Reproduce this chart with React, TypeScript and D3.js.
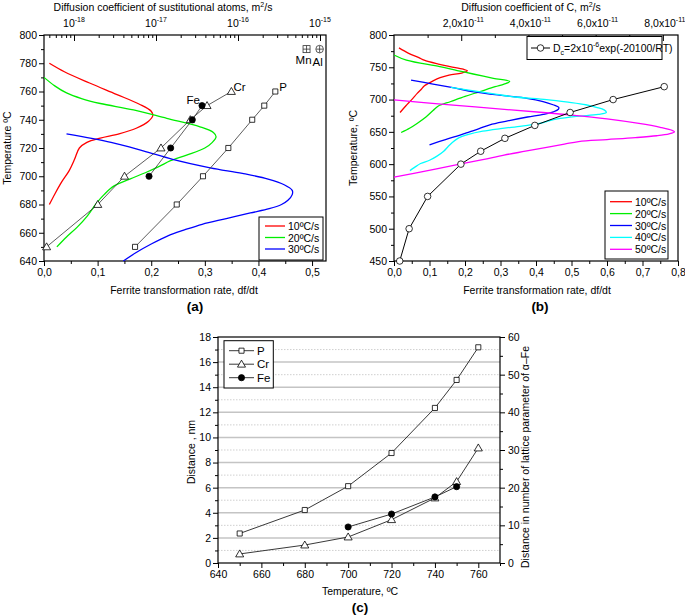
import { useEffect, useRef } from "react";
import * as d3 from "d3";

// [temperature ºC, ferrite transformation rate df/dt]
type TR = [number, number];

/* ── panel (a) ── */
const rateA10: TR[] = [
  [780, 0.010], [774, 0.038], [766, 0.085], [758, 0.135], [751, 0.178], [746, 0.200], [743, 0.203],
  [739, 0.195], [734, 0.172], [730, 0.140], [727, 0.105], [724, 0.080], [720, 0.066], [712, 0.057],
  [704, 0.047], [696, 0.033], [688, 0.021], [680, 0.010],
];
const rateA20: TR[] = [
  [770, 0.000], [764, 0.020], [759, 0.042], [755, 0.070], [751.5, 0.105], [747, 0.167], [741, 0.229],
  [735, 0.291], [731, 0.316], [728, 0.321], [724, 0.314], [720, 0.300], [715, 0.266], [711, 0.236],
  [707, 0.215], [703, 0.192], [698, 0.160], [693, 0.130], [687, 0.112], [681, 0.098], [672, 0.081],
  [664, 0.062], [657, 0.042], [650, 0.024],
];
const rateA30: TR[] = [
  [730, 0.042], [724, 0.125], [718, 0.185], [712, 0.240], [706, 0.310], [702, 0.370], [698, 0.418],
  [694, 0.448], [690, 0.463], [687, 0.463], [683, 0.455], [680, 0.443], [677, 0.420], [674, 0.385],
  [670, 0.340], [666, 0.295], [662, 0.262], [658, 0.232], [652, 0.200], [646, 0.172], [640, 0.148],
];
// [temperature ºC, diffusion coefficient m²/s]
const diffP: TR[] = [[650, 5.55e-18], [680, 1.79e-17], [700, 3.74e-17], [720, 7.62e-17], [740, 1.49e-16], [750, 2.09e-16], [760, 2.85e-16]];
const diffCr: TR[] = [[650, 4.63e-19], [680, 1.95e-18], [700, 4.13e-18], [720, 1.15e-17], [740, 2.62e-17], [750, 4.19e-17], [760, 8.30e-17]];
const diffFe: TR[] = [[700, 8.22e-18], [720, 1.51e-17], [740, 2.77e-17], [750, 3.64e-17]];
const diffMnAl = [{ name: "Mn", t: 790, d: 6.85e-16, sym: "sq" }, { name: "Al", t: 790, d: 9.89e-16, sym: "ci" }];
const legendA = ["10ºC/s", "20ºC/s", "30ºC/s"];
const topTicksA = [1e-18, 1e-17, 1e-16, 1e-15];

/* ── panel (b) ── */
const rateB10: TR[] = [
  [780, 0.014], [772, 0.040], [765, 0.070], [761, 0.085], [755, 0.125], [751, 0.158], [747, 0.195],
  [744.5, 0.207], [741, 0.190], [738, 0.155], [734, 0.130], [729, 0.110], [725, 0.097], [721, 0.085],
  [716, 0.077], [710, 0.066], [700, 0.050], [690, 0.033], [680, 0.017],
];
const rateB20: TR[] = [
  [769, 0.000], [761, 0.035], [751, 0.129], [745, 0.178], [739.6, 0.223], [733, 0.280], [728, 0.326],
  [724, 0.310], [720, 0.285], [712, 0.240], [705, 0.200], [697, 0.160], [690, 0.125], [683, 0.110],
  [673, 0.090], [663, 0.065], [656, 0.045], [649, 0.020],
];
const rateB30: TR[] = [
  [730, 0.048], [724, 0.110], [718, 0.170], [712, 0.225], [706, 0.310], [702, 0.374], [697, 0.420],
  [692, 0.448], [688, 0.464], [685, 0.463], [681, 0.449], [677, 0.420], [673, 0.376], [667, 0.320],
  [661, 0.270], [655, 0.240], [650, 0.213], [645, 0.186], [638, 0.145], [630, 0.100],
];
const rateB40: TR[] = [
  [719, 0.160], [713, 0.230], [708, 0.290], [704, 0.340], [700, 0.430], [696, 0.490], [692, 0.540],
  [688, 0.570], [684, 0.592], [680, 0.598], [677, 0.575], [674, 0.515], [670, 0.460], [666, 0.430],
  [663, 0.410], [659, 0.360], [655, 0.300], [651, 0.250], [646, 0.210], [640, 0.180], [634, 0.165],
  [627, 0.152], [620, 0.140], [612, 0.120], [606, 0.100], [601, 0.075], [595, 0.058], [590, 0.045],
];
const rateB50: TR[] = [
  [699.5, 0.000], [694.5, 0.100], [689, 0.220], [684, 0.330], [680, 0.420], [676, 0.500], [670, 0.600],
  [663, 0.690], [657, 0.750], [652, 0.785], [650, 0.790], [647, 0.775], [644, 0.740], [641, 0.680],
  [638, 0.600], [635, 0.520], [631, 0.480], [626, 0.430], [620, 0.370], [614, 0.310], [607, 0.250],
  [600, 0.185], [590, 0.095], [580, 0.000],
];
// [temperature ºC, D_C in 1e-11 m²/s]
const diffCarbon: TR[] = [[450, 0.17], [500, 0.45], [550, 1.0], [600, 1.99], [620, 2.58], [640, 3.30], [660, 4.19], [680, 5.24], [700, 6.52], [720, 8.04]];
const legendB = ["10ºC/s", "20ºC/s", "30ºC/s", "40ºC/s", "50ºC/s"];
const topTicksB = [2, 4, 6, 8];

/* ── panel (c) ── */
const tempC = [650, 680, 700, 720, 740, 750, 760];
const distP = [2.35, 4.22, 6.12, 8.76, 12.35, 14.58, 17.18];
const distCr = [0.72, 1.43, 2.07, 3.45, 5.18, 6.48, 9.16];
const tempFe = [700, 720, 740, 750];
const distFe = [2.87, 3.9, 5.26, 6.08];

const FONT = "'Liberation Sans', Arial, Helvetica, sans-serif";
const FS = 10.5;
const colorsB = ["#ff0000", "#00ee00", "#0000ff", "#00ffff", "#ff00ff"];
const comma = (v: any) => d3.format(".1f")(v).replace(".", ",");

export default function App() {
  const ref = useRef<SVGSVGElement>(null);

  useEffect(() => {
    if (!ref.current) return;
    const svg = d3.select(ref.current);
    svg.selectAll("*").remove();

    const styleAxis = (g: any, labels = true) => {
      g.attr("font-family", FONT).attr("font-size", FS);
      g.select(".domain").remove();
      g.selectAll(".tick line").attr("stroke", "#000").attr("stroke-width", 1);
      g.selectAll(".tick text").attr("fill", "#000");
      if (!labels) g.selectAll(".tick text").remove();
    };
    const txt = (g: any, x: number, y: number, s: string, opt: any = {}) =>
      g.append("text").attr("x", x).attr("y", y).attr("font-family", FONT)
        .attr("font-size", opt.size ?? FS).attr("font-weight", opt.bold ? "bold" : "normal")
        .attr("text-anchor", opt.anchor ?? "middle").attr("fill", "#000")
        .attr("transform", opt.rot ? `rotate(-90,${x},${y})` : null).text(s);
    const marker = (g: any, kind: string, x: number, y: number) => {
      const type = kind === "sq" ? d3.symbolSquare : kind === "tri" ? d3.symbolTriangle : d3.symbolCircle;
      const size = kind === "sq" ? 26 : kind === "tri" ? 28 : kind === "dot" ? 30 : 34;
      g.append("path").attr("d", d3.symbol(type, size)())
        .attr("transform", `translate(${x},${y + (kind === "tri" ? 0.6 : 0)})`)
        .attr("fill", kind === "dot" ? "#000" : "#fff").attr("stroke", "#000").attr("stroke-width", 0.8);
    };
    const frame = (g: any, P: any) =>
      g.append("rect").attr("x", P.l).attr("y", P.t).attr("width", P.r - P.l).attr("height", P.b - P.t)
        .attr("fill", "none").attr("stroke", "#000").attr("stroke-width", 1.2);

    /* ===== panel (a) ===== */
    const A = { l: 44, r: 326, t: 35, b: 261 };
    const xA = d3.scaleLinear().domain([0, 0.526]).range([A.l, A.r]);
    const yA = d3.scaleLinear().domain([640, 800]).range([A.b, A.t]);
    const dA = d3.scaleLog().domain([Math.pow(10, -18.366), Math.pow(10, -14.927)]).range([A.l, A.r]);
    const ga = svg.append("g");

    ga.append("g").attr("transform", `translate(0,${A.b})`)
      .call(d3.axisBottom(xA).tickValues([0, 0.1, 0.2, 0.3, 0.4, 0.5]).tickSize(5).tickPadding(3).tickFormat(comma))
      .call((g: any) => styleAxis(g));
    ga.append("g").attr("transform", `translate(0,${A.b})`)
      .call(d3.axisBottom(xA).tickValues([0.05, 0.15, 0.25, 0.35, 0.45]).tickSize(3))
      .call((g: any) => styleAxis(g, false));
    ga.append("g").attr("transform", `translate(${A.l},0)`)
      .call(d3.axisLeft(yA).tickValues(d3.range(640, 801, 20)).tickSize(5).tickPadding(2))
      .call((g: any) => styleAxis(g));
    ga.append("g").attr("transform", `translate(${A.l},0)`)
      .call(d3.axisLeft(yA).tickValues(d3.range(650, 800, 20)).tickSize(3))
      .call((g: any) => styleAxis(g, false));
    const minorLog: number[] = [];
    for (let e = -19; e <= -15; e++) for (let k = 2; k <= 9; k++) {
      const v = k * Math.pow(10, e);
      if (v > dA.domain()[0] && v < dA.domain()[1]) minorLog.push(v);
    }
    ga.append("g").attr("transform", `translate(0,${A.t})`)
      .call(d3.axisTop(dA).tickValues(topTicksA).tickSize(-6))
      .call((g: any) => styleAxis(g, false));
    ga.append("g").attr("transform", `translate(0,${A.t})`)
      .call(d3.axisTop(dA).tickValues(minorLog).tickSize(-3))
      .call((g: any) => styleAxis(g, false));
    topTicksA.forEach((v) => {
      const t = txt(ga, dA(v), 27, "10");
      t.append("tspan").attr("dy", -5).attr("font-size", 7).text(String(Math.round(Math.log10(v))));
    });
    frame(ga, A);

    const lineA = d3.line<TR>().x((d) => xA(d[1])).y((d) => yA(d[0])).curve(d3.curveCatmullRom.alpha(0.5));
    [rateA10, rateA20, rateA30].forEach((s, i) =>
      ga.append("path").attr("d", lineA(s)).attr("fill", "none").attr("stroke", colorsB[i]).attr("stroke-width", 1.3));

    const lineD = d3.line<TR>().x((d) => dA(d[1])).y((d) => yA(d[0]));
    const seriesA: [TR[], string][] = [[diffCr, "tri"], [diffFe, "dot"], [diffP, "sq"]];
    seriesA.forEach(([s, kind]) => {
      ga.append("path").attr("d", lineD(s)).attr("fill", "none").attr("stroke", "#333").attr("stroke-width", 0.8);
      s.forEach((d) => marker(ga, kind, dA(d[1]), yA(d[0])));
    });
    const lastCr = diffCr[diffCr.length - 1], lastP = diffP[diffP.length - 1], lastFe = diffFe[diffFe.length - 1];
    txt(ga, dA(lastCr[1]) + 2, yA(lastCr[0]) - 1, "Cr", { anchor: "start", size: 11.5 });
    txt(ga, dA(lastP[1]) + 4, yA(lastP[0]) - 1, "P", { anchor: "start", size: 11.5 });
    txt(ga, dA(lastFe[1]) - 2, yA(lastFe[0]) - 2, "Fe", { anchor: "end", size: 11.5 });
    diffMnAl.forEach((m) => {
      const x = dA(m.d), y = yA(m.t);
      const sym = ga.append("g").attr("transform", `translate(${x},${y})`).attr("stroke", "#333").attr("stroke-width", 0.8).attr("fill", "none");
      if (m.sym === "sq") sym.append("rect").attr("x", -3.5).attr("y", -3.5).attr("width", 7).attr("height", 7);
      else sym.append("circle").attr("r", 3.8);
      sym.append("line").attr("x1", -3.5).attr("x2", 3.5);
      sym.append("line").attr("y1", -3.5).attr("y2", 3.5);
      txt(ga, x - (m.sym === "sq" ? 3 : 2), y + (m.sym === "sq" ? 15 : 17), m.name, { size: 11.5 });
    });

    const legA = ga.append("g");
    legA.append("rect").attr("x", 259).attr("y", 217).attr("width", 64).attr("height", 43)
      .attr("fill", "#fff").attr("stroke", "#000").attr("stroke-width", 1);
    legendA.forEach((s, i) => {
      const y = 226 + i * 11.5;
      legA.append("line").attr("x1", 265).attr("x2", 285).attr("y1", y).attr("y2", y).attr("stroke", colorsB[i]).attr("stroke-width", 1.3);
      txt(legA, 288, y + 4, s, { anchor: "start" });
    });

    const tA = txt(ga, 163, 11, "Diffusion coefficient of sustitutional atoms, m");
    tA.append("tspan").attr("dy", -4).attr("font-size", 7).text("2");
    tA.append("tspan").attr("dy", 4).text("/s");
    txt(ga, 184, 294, "Ferrite transformation rate, df/dt");
    txt(ga, 11, 148, "Temperature ºC", { rot: true });
    txt(ga, 195, 311, "(a)", { bold: true, size: 13.5 });

    /* ===== panel (b) ===== */
    const B = { l: 394, r: 678, t: 35, b: 261 };
    const xB = d3.scaleLinear().domain([0, 0.8]).range([B.l, B.r]);
    const yB = d3.scaleLinear().domain([450, 800]).range([B.b, B.t]);
    const dB = d3.scaleLinear().domain([0, 8.45]).range([B.l, B.r]);
    const gb = svg.append("g");

    gb.append("g").attr("transform", `translate(0,${B.b})`)
      .call(d3.axisBottom(xB).tickValues(d3.range(0, 0.81, 0.1)).tickSize(5).tickPadding(3).tickFormat(comma))
      .call((g: any) => styleAxis(g));
    gb.append("g").attr("transform", `translate(0,${B.b})`)
      .call(d3.axisBottom(xB).tickValues(d3.range(0.05, 0.8, 0.1)).tickSize(3))
      .call((g: any) => styleAxis(g, false));
    gb.append("g").attr("transform", `translate(${B.l},0)`)
      .call(d3.axisLeft(yB).tickValues(d3.range(450, 801, 50)).tickSize(5).tickPadding(2))
      .call((g: any) => styleAxis(g));
    gb.append("g").attr("transform", `translate(${B.l},0)`)
      .call(d3.axisLeft(yB).tickValues(d3.range(475, 800, 50)).tickSize(3))
      .call((g: any) => styleAxis(g, false));
    gb.append("g").attr("transform", `translate(0,${B.t})`)
      .call(d3.axisTop(dB).tickValues(topTicksB).tickSize(-6))
      .call((g: any) => styleAxis(g, false));
    gb.append("g").attr("transform", `translate(0,${B.t})`)
      .call(d3.axisTop(dB).tickValues([1, 3, 5, 7]).tickSize(-3))
      .call((g: any) => styleAxis(g, false));
    topTicksB.forEach((v) => {
      const t = txt(gb, dB(v) + 2, 27, `${comma(v)}x10`);
      t.append("tspan").attr("dy", -5).attr("font-size", 7).text("-11");
    });
    frame(gb, B);

    const lineB = d3.line<TR>().x((d) => xB(d[1])).y((d) => yB(d[0])).curve(d3.curveCatmullRom.alpha(0.5));
    [rateB10, rateB20, rateB30, rateB40, rateB50].forEach((s, i) =>
      gb.append("path").attr("d", lineB(s)).attr("fill", "none").attr("stroke", colorsB[i]).attr("stroke-width", 1.3));

    const lineC = d3.line<TR>().x((d) => dB(d[1])).y((d) => yB(d[0]));
    gb.append("path").attr("d", lineC(diffCarbon)).attr("fill", "none").attr("stroke", "#000").attr("stroke-width", 1);
    diffCarbon.forEach((d) => marker(gb, "ci", dB(d[1]), yB(d[0])));

    const legB1 = gb.append("g");
    legB1.append("rect").attr("x", 527).attr("y", 36.5).attr("width", 135).attr("height", 23)
      .attr("fill", "#fff").attr("stroke", "#000").attr("stroke-width", 1);
    legB1.append("line").attr("x1", 531).attr("x2", 550).attr("y1", 48).attr("y2", 48).attr("stroke", "#000");
    marker(legB1, "ci", 540.5, 48);
    const dc = txt(legB1, 553, 52, "D", { anchor: "start" });
    dc.append("tspan").attr("dy", 3).attr("font-size", 7).text("c");
    dc.append("tspan").attr("dy", -3).text("=2x10");
    dc.append("tspan").attr("dy", -5).attr("font-size", 7).text("-6");
    dc.append("tspan").attr("dy", 5).text("exp(-20100/RT)");

    const legB2 = gb.append("g");
    legB2.append("rect").attr("x", 605).attr("y", 191).attr("width", 63).attr("height", 68)
      .attr("fill", "#fff").attr("stroke", "#000").attr("stroke-width", 1);
    legendB.forEach((s, i) => {
      const y = 201.7 + i * 11.9;
      legB2.append("line").attr("x1", 610).attr("x2", 632).attr("y1", y).attr("y2", y).attr("stroke", colorsB[i]).attr("stroke-width", 1.3);
      txt(legB2, 635, y + 4, s, { anchor: "start" });
    });

    const tB = txt(gb, 531, 11, "Diffusion coefficient of C, m");
    tB.append("tspan").attr("dy", -4).attr("font-size", 7).text("2");
    tB.append("tspan").attr("dy", 4).text("/s");
    txt(gb, 537, 294, "Ferrite transformation rate, df/dt");
    txt(gb, 357, 148, "Temperature, ºC", { rot: true });
    txt(gb, 540, 311, "(b)", { bold: true, size: 13.5 });

    /* ===== panel (c) ===== */
    const C = { l: 218, r: 500, t: 337, b: 563 };
    const xC = d3.scaleLinear().domain([640, 770]).range([C.l, C.r]);
    const yC = d3.scaleLinear().domain([0, 18]).range([C.b, C.t]);
    const yC2 = d3.scaleLinear().domain([0, 60]).range([C.b, C.t]);
    const gc = svg.append("g");

    d3.range(1, 18, 2).forEach((v) =>
      gc.append("line").attr("x1", C.l).attr("x2", C.r).attr("y1", yC(v)).attr("y2", yC(v))
        .attr("stroke", "#bbb").attr("stroke-width", 0.7).attr("stroke-dasharray", "1.5 1.5"));
    d3.range(2, 17, 2).forEach((v) =>
      gc.append("line").attr("x1", C.l).attr("x2", C.r).attr("y1", yC(v)).attr("y2", yC(v))
        .attr("stroke", "#c4c4c4").attr("stroke-width", 1.5));

    gc.append("g").attr("transform", `translate(0,${C.b})`)
      .call(d3.axisBottom(xC).tickValues(d3.range(640, 761, 20)).tickSize(5).tickPadding(3))
      .call((g: any) => styleAxis(g));
    gc.append("g").attr("transform", `translate(0,${C.b})`)
      .call(d3.axisBottom(xC).tickValues(d3.range(650, 771, 20)).tickSize(3))
      .call((g: any) => styleAxis(g, false));
    gc.append("g").attr("transform", `translate(${C.l},0)`)
      .call(d3.axisLeft(yC).tickValues(d3.range(0, 19, 2)).tickSize(5).tickPadding(2))
      .call((g: any) => styleAxis(g));
    gc.append("g").attr("transform", `translate(${C.l},0)`)
      .call(d3.axisLeft(yC).tickValues(d3.range(1, 18, 2)).tickSize(3))
      .call((g: any) => styleAxis(g, false));
    gc.append("g").attr("transform", `translate(${C.r},0)`)
      .call(d3.axisRight(yC2).tickValues(d3.range(0, 61, 10)).tickSize(5).tickPadding(3))
      .call((g: any) => styleAxis(g));
    gc.append("g").attr("transform", `translate(${C.r},0)`)
      .call(d3.axisRight(yC2).tickValues(d3.range(5, 60, 10)).tickSize(3))
      .call((g: any) => styleAxis(g, false));
    frame(gc, C);

    const seriesC: [number[], number[], string][] = [[tempC, distP, "sq"], [tempC, distCr, "tri"], [tempFe, distFe, "dot"]];
    seriesC.forEach(([ts, ds, kind]) => {
      const pts = ts.map((t, i) => [xC(t), yC(ds[i])] as [number, number]);
      gc.append("path").attr("d", d3.line()(pts)).attr("fill", "none").attr("stroke", "#222").attr("stroke-width", 0.9);
      pts.forEach(([x, y]) => marker(gc, kind, x, y));
    });

    const legC = gc.append("g");
    legC.append("rect").attr("x", 224).attr("y", 340.7).attr("width", 49.3).attr("height", 47.3)
      .attr("fill", "#fff").attr("stroke", "#000").attr("stroke-width", 1);
    [["P", "sq"], ["Cr", "tri"], ["Fe", "dot"]].forEach(([s, kind], i) => {
      const y = 350.7 + i * 13.5;
      legC.append("line").attr("x1", 229).attr("x2", 254).attr("y1", y).attr("y2", y).attr("stroke", "#222").attr("stroke-width", 0.9);
      marker(legC, kind, 241.5, y);
      txt(legC, 257, y + 4, s, { anchor: "start", size: 11.5 });
    });

    txt(gc, 360, 595, "Temperature, ºC");
    txt(gc, 195, 452, "Distance , nm", { rot: true });
    txt(gc, 529, 457, "Distance in number of lattice parameter of α–Fe", { rot: true });
    txt(gc, 360, 612, "(c)", { bold: true, size: 13.5 });
  }, []);

  return (
    <svg ref={ref} width={685} height={615} viewBox="0 0 685 615"
      style={{ position: "absolute", left: 0, top: 0, background: "#fff", display: "block" }} />
  );
}
